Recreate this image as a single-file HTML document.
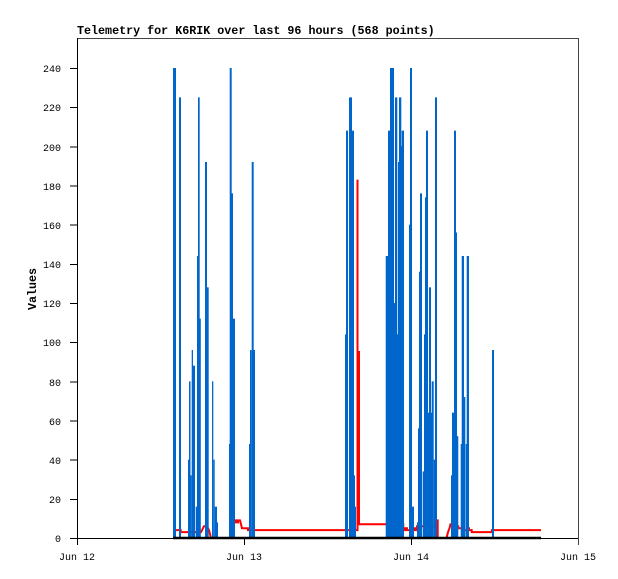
<!DOCTYPE html>
<html><head><meta charset="utf-8"><style>
html,body{margin:0;padding:0;background:#fff;}
svg{display:block;}
text{font-family:"Liberation Mono","DejaVu Sans Mono",monospace;fill:#000;}
</style></head><body>
<svg width="618" height="579" viewBox="0 0 618 579" xmlns="http://www.w3.org/2000/svg">
<rect x="0" y="0" width="618" height="579" fill="#fff"/>
<text x="77" y="34" font-size="11.7" font-weight="bold">Telemetry for K6RIK over last 96 hours (568 points)</text>
<g shape-rendering="crispEdges">
<line x1="77" y1="38.5" x2="578.5" y2="38.5" stroke="#444" stroke-width="1"/>
<line x1="578.5" y1="38" x2="578.5" y2="545" stroke="#444" stroke-width="1"/>
</g>
<g transform="translate(0,538) scale(1,-1.9583)">
<polyline fill="none" stroke="#ff0000" stroke-width="2" vector-effect="non-scaling-stroke" points="173.5,4 180.7,4 180.7,3 201,3 202,4 203,5 204,6 207,6 208,5 209,4 210,2 211,0 234,0 234,8 236,8 236,9 237,9 237,8 238,8 238,9 240,9 241,7 242,5 248,5 248,4 357.5,4 357.5,183 357.5,95 359,95 359,7 403.3,7 403.3,5 405,5 405,4 406,4 406,5 407,5 407,4 413.7,4 413.7,5 414.5,5 414.5,4 416,4 416,5 417,5 417,6 436.7,6 436.7,9 437.7,9 437.7,0 446.5,0 448,3 449.5,5 450.5,7 452,7 452,6 458.3,6 458.3,5 462,5 462,4 467,4 467,5 469,5 469,4 471.7,4 471.7,3 492,3 492,4 541,4"/>
</g>
<g transform="translate(0,538) scale(1,-1.9583)" fill="#0066cc">
<rect x="173" y="0" width="3" height="240"/>
<rect x="179" y="0" width="2" height="225"/>
<rect x="188" y="0" width="1.5" height="40"/>
<rect x="189" y="0" width="1.5" height="80"/>
<rect x="190.3" y="0" width="1.4" height="32"/>
<rect x="191.7" y="0" width="1.3" height="96"/>
<rect x="193" y="0" width="2" height="88"/>
<rect x="195.7" y="0" width="1.3" height="16"/>
<rect x="197" y="0" width="1.5" height="144"/>
<rect x="198" y="0" width="1.7" height="225"/>
<rect x="199.3" y="0" width="1.5" height="112"/>
<rect x="205" y="0" width="2" height="192"/>
<rect x="206.3" y="0" width="2.4" height="128"/>
<rect x="212" y="0" width="1.3" height="80"/>
<rect x="213.3" y="0" width="1.4" height="40"/>
<rect x="214.7" y="0" width="2.3" height="16"/>
<rect x="216.3" y="0" width="1.7" height="8"/>
<rect x="229" y="0" width="1.3" height="48"/>
<rect x="229.7" y="0" width="2" height="240"/>
<rect x="231.3" y="0" width="1.7" height="176"/>
<rect x="232.7" y="0" width="2.3" height="112"/>
<rect x="249" y="0" width="1.3" height="48"/>
<rect x="250" y="0" width="1.7" height="96"/>
<rect x="251.7" y="0" width="2" height="192"/>
<rect x="253" y="0" width="2" height="96"/>
<rect x="345" y="0" width="1.3" height="104"/>
<rect x="346" y="0" width="2" height="208"/>
<rect x="349" y="0" width="3" height="225"/>
<rect x="351.7" y="0" width="2.3" height="208"/>
<rect x="353.3" y="0" width="1.7" height="32"/>
<rect x="354.7" y="0" width="1.3" height="16"/>
<rect x="385.7" y="0" width="2.6" height="144"/>
<rect x="388" y="0" width="2.3" height="208"/>
<rect x="390" y="0" width="4" height="240"/>
<rect x="393.3" y="0" width="2" height="120"/>
<rect x="395" y="0" width="2.3" height="225"/>
<rect x="396.7" y="0" width="1.6" height="104"/>
<rect x="398" y="0" width="1.3" height="192"/>
<rect x="399" y="0" width="2.3" height="225"/>
<rect x="400.3" y="0" width="1.7" height="200"/>
<rect x="401.7" y="0" width="2.3" height="208"/>
<rect x="409" y="0" width="2" height="160"/>
<rect x="410" y="0" width="2" height="240"/>
<rect x="411.7" y="0" width="2.3" height="16"/>
<rect x="417" y="0" width="1.7" height="8"/>
<rect x="418" y="0" width="1.3" height="56"/>
<rect x="419" y="0" width="1.7" height="136"/>
<rect x="420" y="0" width="2" height="176"/>
<rect x="422.7" y="0" width="1.6" height="34"/>
<rect x="424" y="0" width="1.3" height="104"/>
<rect x="425" y="0" width="1.7" height="174"/>
<rect x="426" y="0" width="2" height="208"/>
<rect x="427.7" y="0" width="1.3" height="64"/>
<rect x="429" y="0" width="2" height="128"/>
<rect x="430.7" y="0" width="1.3" height="64"/>
<rect x="431.7" y="0" width="2" height="80"/>
<rect x="433.7" y="0" width="1.3" height="40"/>
<rect x="435" y="0" width="2" height="225"/>
<rect x="451" y="0" width="1.3" height="32"/>
<rect x="452" y="0" width="2" height="64"/>
<rect x="454" y="0" width="2" height="208"/>
<rect x="455.3" y="0" width="1.7" height="156"/>
<rect x="456.7" y="0" width="1.6" height="52"/>
<rect x="460.7" y="0" width="1.6" height="48"/>
<rect x="461.7" y="0" width="2.3" height="144"/>
<rect x="463.3" y="0" width="2" height="72"/>
<rect x="465.7" y="0" width="1.3" height="48"/>
<rect x="466.7" y="0" width="2.3" height="144"/>
<rect x="492" y="0" width="2" height="96"/>
</g>
<g shape-rendering="crispEdges" stroke="#000" stroke-width="1">
<line x1="77.5" y1="38" x2="77.5" y2="545"/>
<line x1="70" y1="538.5" x2="578" y2="538.5"/>
<line x1="70" y1="499.3" x2="77" y2="499.3"/>
<line x1="70" y1="460.2" x2="77" y2="460.2"/>
<line x1="70" y1="421.0" x2="77" y2="421.0"/>
<line x1="70" y1="381.8" x2="77" y2="381.8"/>
<line x1="70" y1="342.6" x2="77" y2="342.6"/>
<line x1="70" y1="303.5" x2="77" y2="303.5"/>
<line x1="70" y1="264.3" x2="77" y2="264.3"/>
<line x1="70" y1="225.2" x2="77" y2="225.2"/>
<line x1="70" y1="186.0" x2="77" y2="186.0"/>
<line x1="70" y1="146.8" x2="77" y2="146.8"/>
<line x1="70" y1="107.7" x2="77" y2="107.7"/>
<line x1="70" y1="68.5" x2="77" y2="68.5"/>
<line x1="244.5" y1="538" x2="244.5" y2="545"/>
<line x1="411.5" y1="538" x2="411.5" y2="545"/>
</g>
<line x1="173" y1="538" x2="541" y2="538" stroke="#000" stroke-width="2.6"/>
<g font-size="10" text-anchor="end">
<text x="61" y="542">0</text>
<text x="61" y="503">20</text>
<text x="61" y="464">40</text>
<text x="61" y="425">60</text>
<text x="61" y="386">80</text>
<text x="61" y="346">100</text>
<text x="61" y="307">120</text>
<text x="61" y="268">140</text>
<text x="61" y="229">160</text>
<text x="61" y="190">180</text>
<text x="61" y="151">200</text>
<text x="61" y="111">220</text>
<text x="61" y="72">240</text>
</g>
<g font-size="10" text-anchor="middle">
<text x="77" y="560">Jun 12</text>
<text x="244" y="560">Jun 13</text>
<text x="411" y="560">Jun 14</text>
<text x="578" y="560">Jun 15</text>
</g>
<text transform="translate(36,289) rotate(-90)" font-size="11.7" font-weight="bold" text-anchor="middle">Values</text>
</svg>
</body></html>
